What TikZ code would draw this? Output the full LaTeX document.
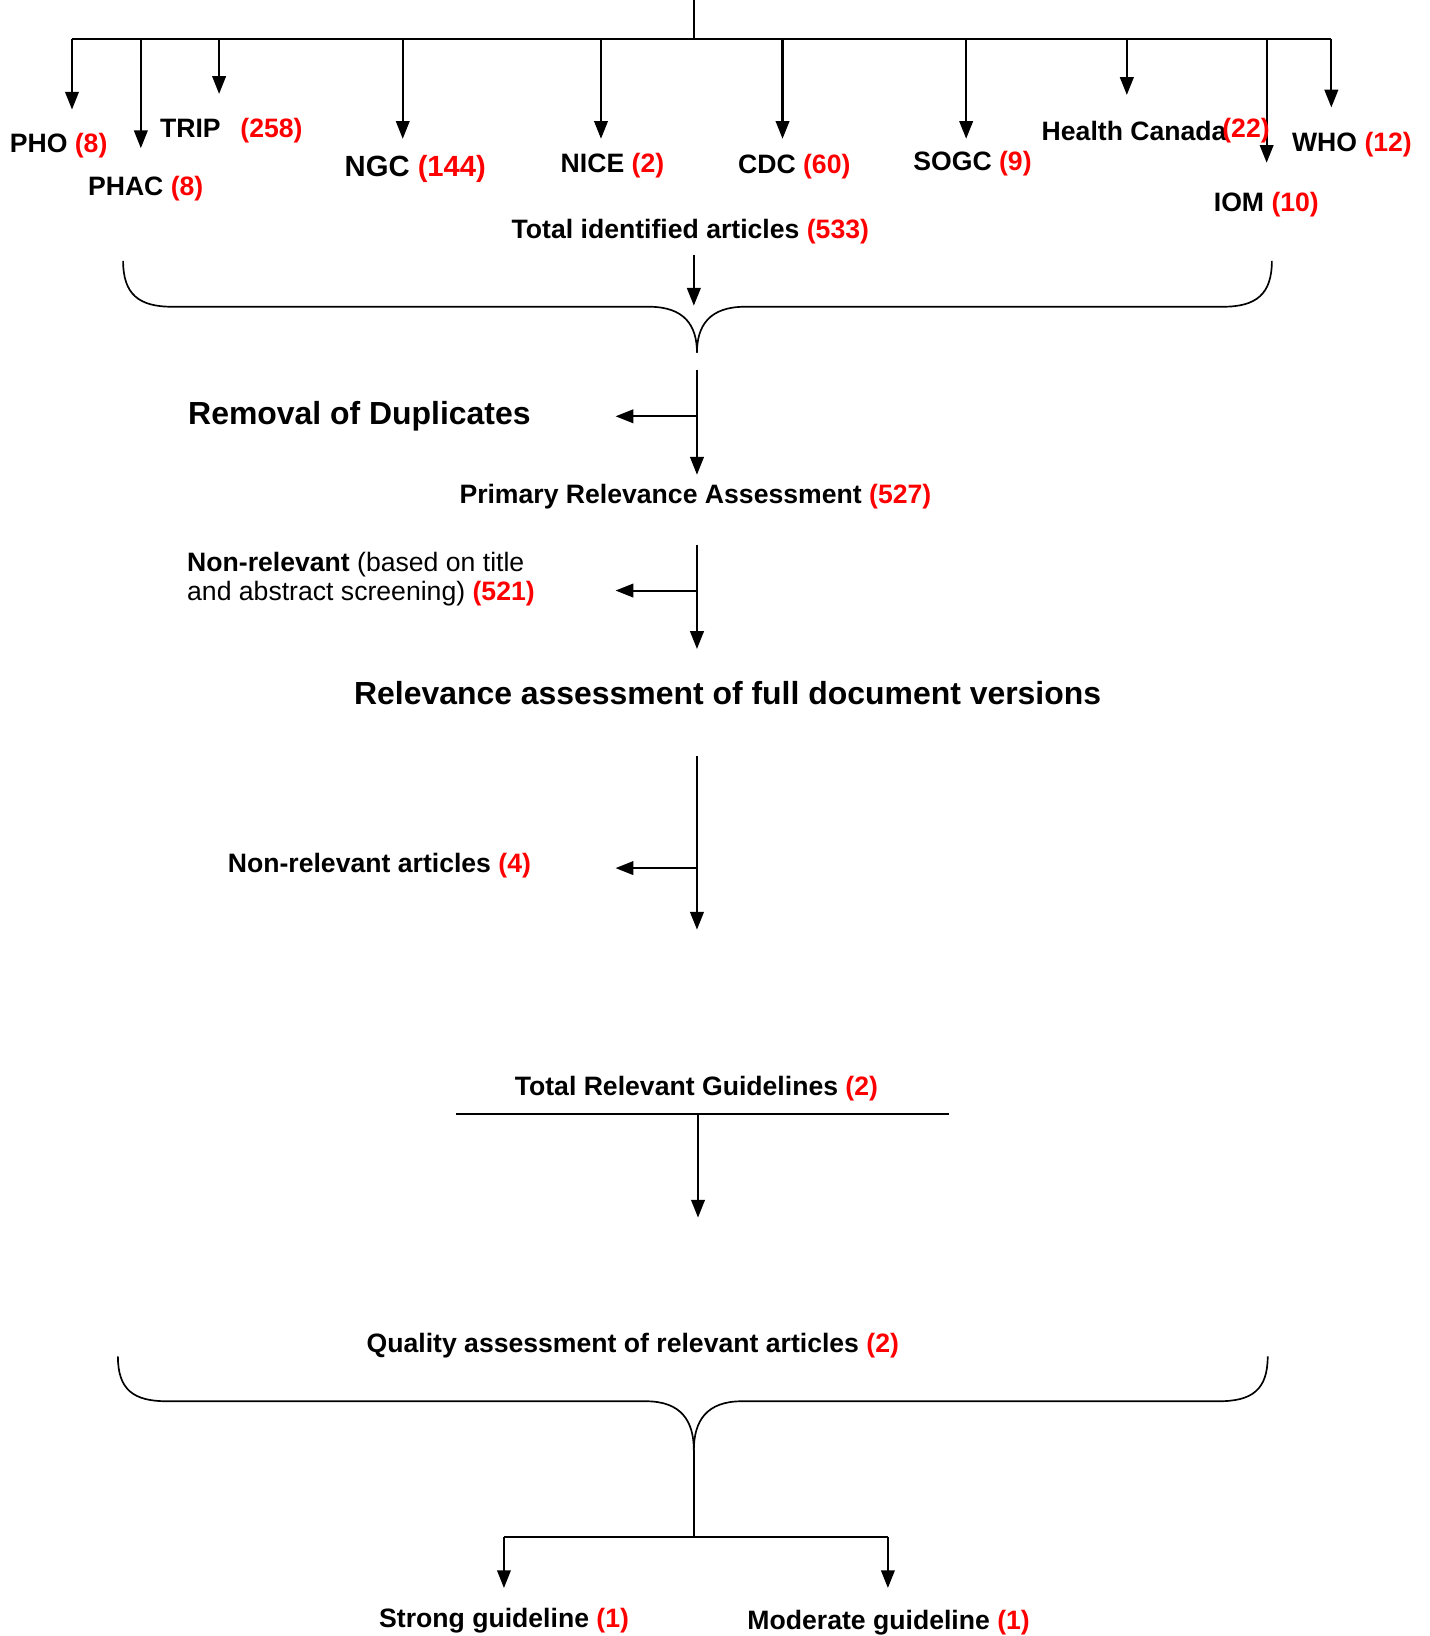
\documentclass[tikz,border=0pt]{standalone}
\usepackage{fontspec}
\setmainfont{Liberation Sans}
\usetikzlibrary{arrows.meta}
\begin{document}
\begin{tikzpicture}[x=0.5pt,y=-0.5pt,
  lbl/.style={anchor=base west, inner sep=0pt, font=\fontsize{12.75pt}{15pt}\selectfont\bfseries},
  biglbl/.style={anchor=base west, inner sep=0pt, font=\fontsize{15.3pt}{18pt}\selectfont\bfseries},
  ngclbl/.style={anchor=base west, inner sep=0pt, font=\fontsize{14pt}{17pt}\selectfont\bfseries},
  ln/.style={line width=1pt},
  arr/.style={line width=1pt, -{Triangle[width=6.5pt,length=8.5pt]}},
  bracel/.style={line width=0.8pt},
]
\useasboundingbox (0,0) rectangle (1370,1568);

% ---------- top distribution ----------
\coordinate (title) at (665,0);
\coordinate (hub) at (665,37);
\coordinate (hl) at (69,37);
\coordinate (hr) at (1276,37);
\draw[ln] (title) -- (hub);
\draw[ln] (hl) -- (hr);

\foreach \nm/\x/\y in {pho/69/105, phac/135/142, trip/210/90, ngc/386/133, nice/576/133,
                       cdc/750/133, sogc/926/133, hc/1080/91, iom/1214/156, who/1276/103}{
  \coordinate (\nm-s) at (\x,37);
  \coordinate (\nm-e) at (\x,\y);
  \draw[arr] (\nm-s) -- (\nm-e);
}

\node[lbl] (pho) at (9,146) {PHO \textcolor{red}{(8)}};
\node[lbl] (phac) at (84,187) {PHAC \textcolor{red}{(8)}};
\node[lbl] (trip) at (153,132) {TRIP\hspace{9.5pt}\textcolor{red}{(258)}};
\node[ngclbl] (ngc) at (330,169) {NGC \textcolor{red}{(144)}};
\node[lbl] (nice) at (537,165) {NICE \textcolor{red}{(2)}};
\node[lbl] (cdc) at (707,166) {CDC \textcolor{red}{(60)}};
\node[lbl] (sogc) at (875,163) {SOGC \textcolor{red}{(9)}};
\node[lbl] (hc) at (998,135) {Health Canada\hspace{-2pt}\raisebox{1.5pt}{\textcolor{red}{(22)}}};
\node[lbl] (who) at (1238,145) {WHO \textcolor{red}{(12)}};
\node[lbl] (iom) at (1163,203) {IOM \textcolor{red}{(10)}};

\node[lbl] (total) at (490,229) {Total identified articles \textcolor{red}{(533)}};
\coordinate (t-s) at (665,244);
\coordinate (t-e) at (665,293);
\draw[arr] (t-s) -- (t-e);

% ---------- brace 1 ----------
\coordinate (b1l) at (118,250);
\coordinate (b1m) at (668,338);
\coordinate (b1r) at (1219,250);
\draw[bracel] (b1l) .. controls (118,282) and (133,294) .. (165,294) -- (622,294)
   .. controls (656,294) and (668,312) .. (b1m);
\draw[bracel] (b1m) .. controls (668,312) and (680,294) .. (714,294) -- (1172,294)
   .. controls (1204,294) and (1219,282) .. (b1r);

% ---------- duplicates ----------
\node[biglbl] (dup) at (180,407) {Removal of Duplicates};
\coordinate (m1-s) at (668,355);
\coordinate (m1-e) at (668,455);
\coordinate (m1-b) at (668,399);
\coordinate (m1-l) at (590,399);
\draw[arr] (m1-s) -- (m1-e);
\draw[arr] (m1-b) -- (m1-l);

\node[lbl] (primary) at (440,483) {Primary Relevance Assessment \textcolor{red}{(527)}};

% ---------- non relevant (title/abstract) ----------
\node[lbl] (nr1) at (179,548) {Non-relevant {\mdseries (based on title}};
\node[lbl] (nr2) at (179,576) {{\mdseries and abstract screening)} \textcolor{red}{(521)}};
\coordinate (m2-s) at (668,522);
\coordinate (m2-e) at (668,622);
\coordinate (m2-b) at (668,566);
\coordinate (m2-l) at (590,566);
\draw[arr] (m2-s) -- (m2-e);
\draw[arr] (m2-b) -- (m2-l);

\node[biglbl] (full) at (339,675) {Relevance assessment of full document versions};

% ---------- non relevant articles ----------
\node[lbl] (nra) at (218,836) {Non-relevant articles \textcolor{red}{(4)}};
\coordinate (m3-s) at (668,725);
\coordinate (m3-e) at (668,891);
\coordinate (m3-b) at (668,832);
\coordinate (m3-l) at (590,832);
\draw[arr] (m3-s) -- (m3-e);
\draw[arr] (m3-b) -- (m3-l);

% ---------- total relevant ----------
\node[lbl] (trg) at (493,1050) {Total Relevant Guidelines \textcolor{red}{(2)}};
\coordinate (rule-l) at (437,1068);
\coordinate (rule-r) at (910,1068);
\draw[line width=0.9pt] (rule-l) -- (rule-r);
\coordinate (m4-s) at (669,1068);
\coordinate (m4-e) at (669,1167);
\draw[arr] (m4-s) -- (m4-e);

\node[lbl] (qual) at (351,1296) {Quality assessment of relevant articles \textcolor{red}{(2)}};

% ---------- brace 2 ----------
\coordinate (b2l) at (113,1300);
\coordinate (b2m) at (665,1390);
\coordinate (b2r) at (1215,1300);
\draw[bracel] (b2l) .. controls (113,1332) and (128,1343) .. (160,1343) -- (619,1343)
   .. controls (653,1343) and (665,1362) .. (b2m);
\draw[bracel] (b2m) .. controls (665,1362) and (677,1343) .. (711,1343) -- (1168,1343)
   .. controls (1200,1343) and (1215,1332) .. (b2r);

% ---------- split ----------
\coordinate (sp) at (665,1473);
\coordinate (sp-l) at (483,1473);
\coordinate (sp-r) at (851,1473);
\coordinate (sl-e) at (483,1522);
\coordinate (sr-e) at (851,1522);
\draw[ln] (b2m) -- (sp);
\draw[ln] (sp-l) -- (sp-r);
\draw[arr] (sp-l) -- (sl-e);
\draw[arr] (sp-r) -- (sr-e);

\node[lbl] (strong) at (363,1560) {Strong guideline \textcolor{red}{(1)}};
\node[lbl] (moderate) at (716,1562) {Moderate guideline \textcolor{red}{(1)}};
\end{tikzpicture}
\end{document}
